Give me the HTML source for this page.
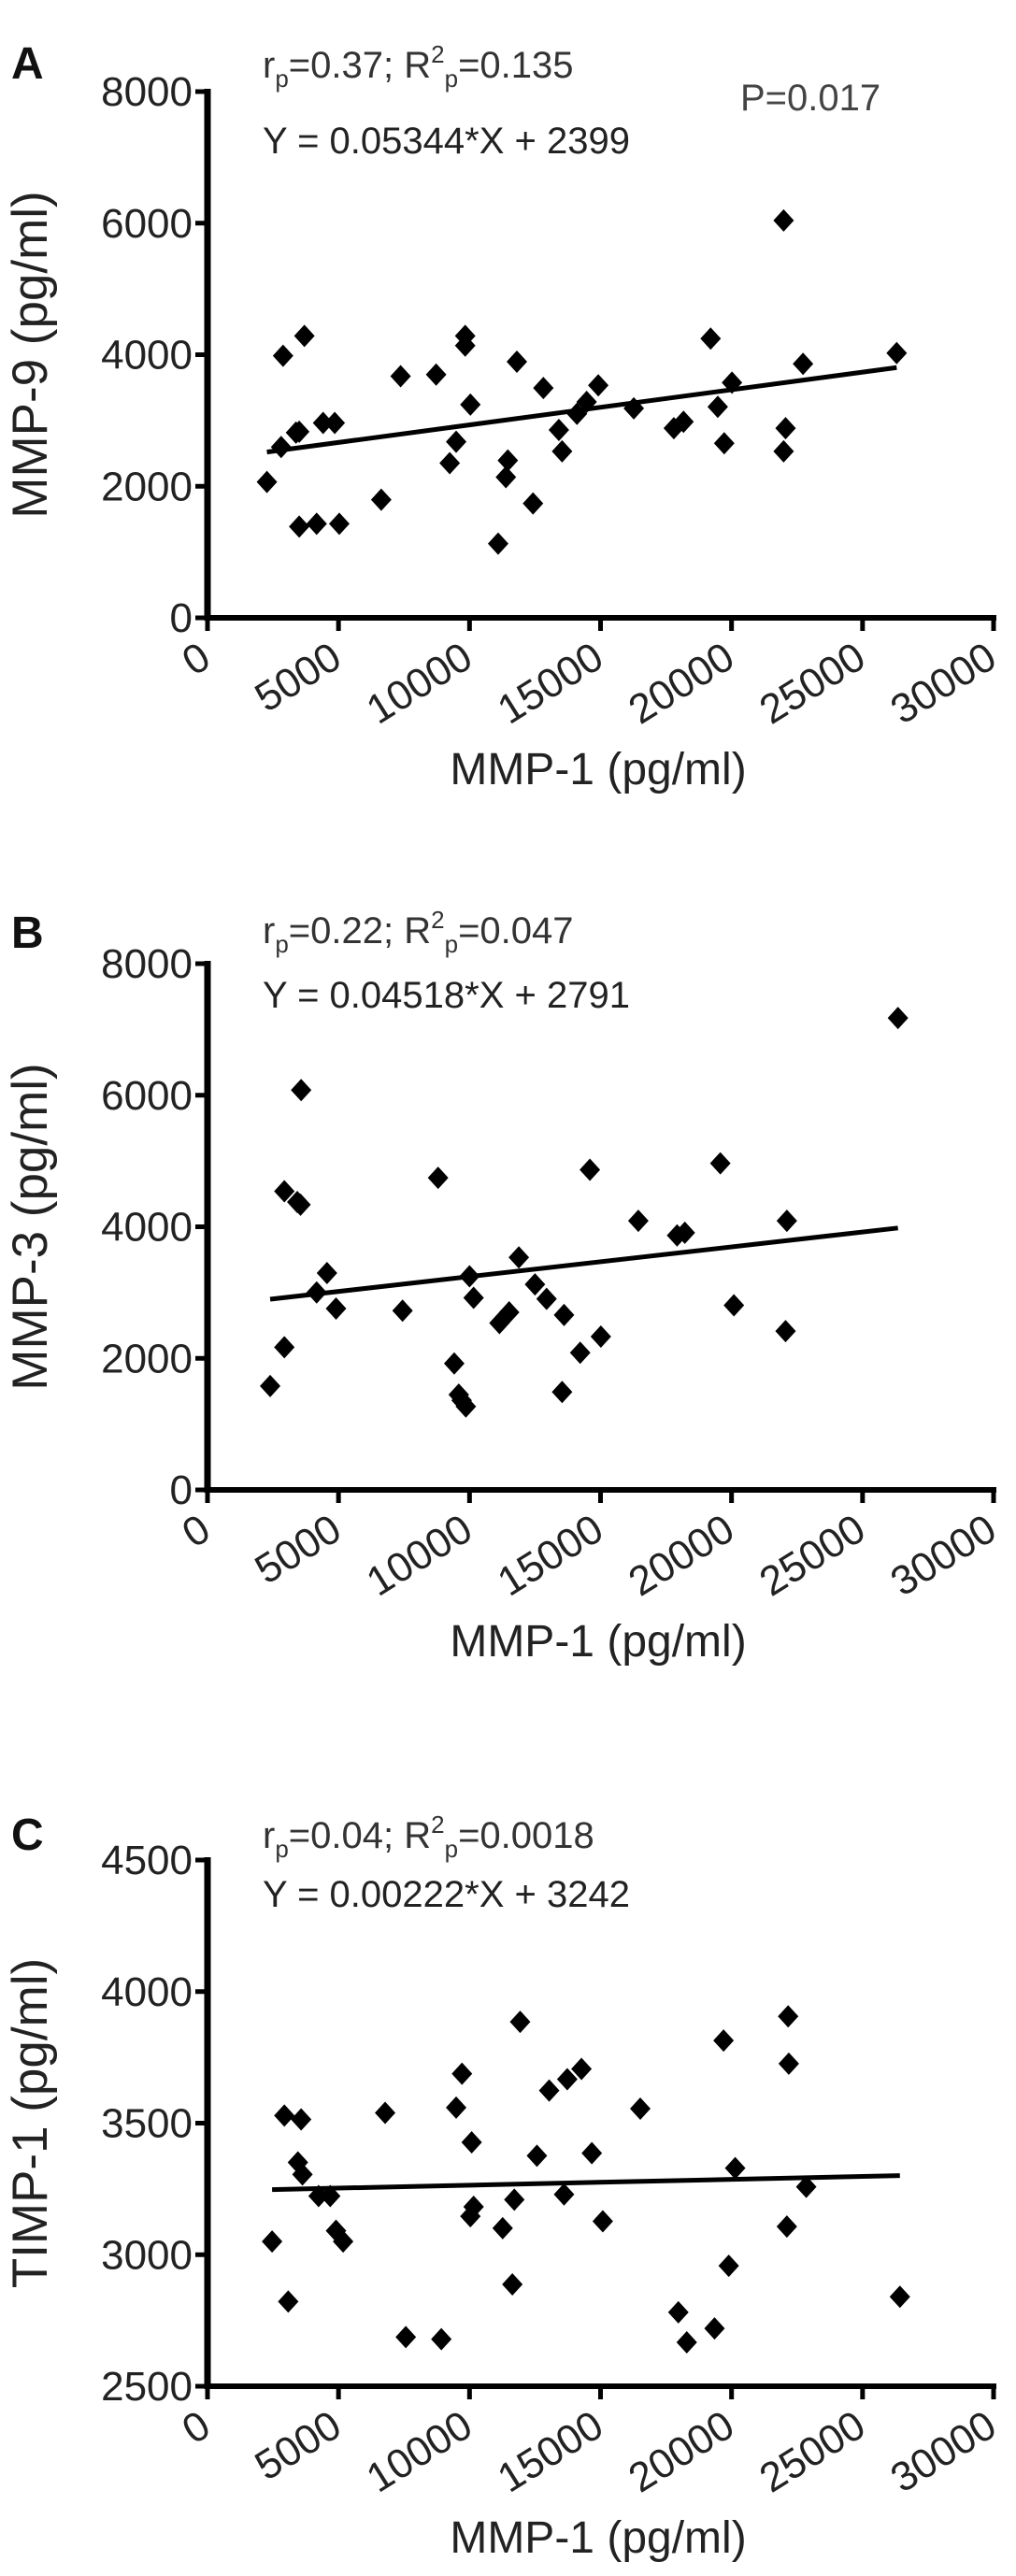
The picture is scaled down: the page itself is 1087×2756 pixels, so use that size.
<!DOCTYPE html>
<html><head><meta charset="utf-8"><style>
html,body{margin:0;padding:0;background:#fff;}
svg{display:block;font-family:"Liberation Sans",Arial,sans-serif;}
</style></head><body>
<svg id="fig" width="1087" height="2756" viewBox="0 0 1087 2756" xmlns="http://www.w3.org/2000/svg"></svg>
<script>
const xTicks=[0,5000,10000,15000,20000,25000,30000];
const yTicksA=[0,2000,4000,6000,8000];
const yTicksB=[0,2000,4000,6000,8000];
const yTicksC=[2500,3000,3500,4000,4500];
const xA=[2268,2884,3377,3500,3698,3500,4166,5029,4412,4856,2810,6631,7370,8726,9490,9244,9835,9835,10033,11093,11462,11388,11807,12423,12818,13410,13533,14100,14470,14914,16269,17797,18167,19202,19474,20016,19720,21988,22062,21988,22728,26302];
const yA=[2065,3984,2816,2830,4286,1388,1429,1429,2963,2963,2596,1796,3673,3698,2677,2351,4286,4139,3241,1127,2392,2139,3894,1739,3494,2857,2531,3102,3282,3535,3184,2882,2980,4245,3208,3575,2653,6041,2882,2531,3861,4024];
const xB=[2391,2933,2933,3426,3550,3574,4166,4560,4905,7444,8800,9416,9589,9860,9700,10000,10156,11142,11512,11882,12498,12941,13607,13533,14223,14593,15012,16442,17921,18217,19572,20090,22111,22062,26351];
const yB=[1579,2168,4540,4376,4335,6078,3002,3297,2757,2724,4744,1922,1448,1268,1360,3247,2920,2536,2699,3534,3125,2904,2659,1489,2086,4867,2331,4090,3869,3910,4965,2806,4090,2413,7174];
const xC=[2465,2933,3081,3574,3451,3624,4240,4683,4905,5176,6779,7568,8924,9490,9712,10082,10156,10033,11265,11635,11709,11931,12572,13040,13607,13730,14272,14667,15086,16516,17970,18291,19351,19695,19893,20139,22160,22185,22111,22851,26425];
const yC=[3050,3529,2822,3514,3351,3305,3223,3223,3091,3050,3539,2687,2679,3559,3688,3427,3182,3146,3101,2887,3209,3885,3376,3624,3229,3667,3706,3386,3127,3555,2781,2667,2720,3814,2958,3329,3906,3726,3107,3258,2840];
const slopes=[0.05344,0.04518,0.00222];
const intercepts=[2399,2791,3242];

const NS="http://www.w3.org/2000/svg";
const svg=document.getElementById('fig');
function mk(tag,attrs,parent,text){const e=document.createElementNS(NS,tag);for(const k in attrs)e.setAttribute(k,attrs[k]);if(text!==undefined)e.textContent=text;(parent||svg).appendChild(e);return e;}

const X0=222,X1=1063,H=563;
const panels=[
 {top:98,letter:'A',xs:xA,ys:yA,yt:yTicksA,ymin:0,ymax:8000,ytitle:'MMP-9 (pg/ml)',ann:['0.37','0.135'],rOff:-15,eOff:66,eq:'Y = 0.05344*X + 2399',p:true,lt:-46},
 {top:1031,letter:'B',xs:xB,ys:yB,yt:yTicksB,ymin:0,ymax:8000,ytitle:'MMP-3 (pg/ml)',ann:['0.22','0.047'],rOff:-22,eOff:47,eq:'Y = 0.04518*X + 2791',p:false,lt:-49},
 {top:1990,letter:'C',xs:xC,ys:yC,yt:yTicksC,ymin:2500,ymax:4500,ytitle:'TIMP-1 (pg/ml)',ann:['0.04','0.0018'],rOff:-13,eOff:50,eq:'Y = 0.00222*X + 3242',p:false,lt:-43}
];
panels.forEach((P,i)=>{
  const g=mk('g',{});
  
  
  const bottom=P.top+H;
  const sx=v=>X0+(v-xTicks[0])/(xTicks[xTicks.length-1]-xTicks[0])*(X1-X0);
  const sy=v=>bottom-(v-P.ymin)/(P.ymax-P.ymin)*H;
  const L=mk('text',{x:12,y:P.top+P.lt+32,'font-size':48,'font-weight':'bold',fill:'#111'},g,P.letter);
  
  
  const ya=mk('line',{x1:X0,y1:P.top-3,x2:X0,y2:bottom+3,stroke:'#000','stroke-width':7},g);
  
  
  const xa=mk('line',{x1:X0-3,y1:bottom,x2:X1+3,y2:bottom,stroke:'#000','stroke-width':6},g);
  
  
  P.yt.forEach(t=>{
    const yy=sy(t);
    const tk=mk('line',{x1:X0-13,y1:yy,x2:X0,y2:yy,stroke:'#000','stroke-width':5},g);
    
    
    const tl=mk('text',{x:X0-16,y:yy+15,'font-size':44,'text-anchor':'end',fill:'#222'},g,String(t));
    
    
  });
  xTicks.forEach(t=>{
    const xx=sx(t);
    const tk=mk('line',{x1:xx,y1:bottom,x2:xx,y2:bottom+14,stroke:'#000','stroke-width':5},g);
    
    
    const tl=mk('text',{x:xx+6,y:bottom+50,'font-size':44,'text-anchor':'end',fill:'#222',transform:`rotate(-32 ${xx+6} ${bottom+50})`},g,String(t));
    
    
  });
  const xt=mk('text',{x:640,y:bottom+178,'font-size':48,'text-anchor':'middle',fill:'#222'},g,'MMP-1 (pg/ml)');
  
  
  const cy=P.top+H/2;
  const yt=mk('text',{x:50,y:cy,'font-size':53,'text-anchor':'middle',fill:'#222',transform:`rotate(-90 50 ${cy})`},g,P.ytitle);
  
  
  const a=mk('text',{x:281,y:P.top+P.rOff,'font-size':40,fill:'#333'},g);
  
  
  a.innerHTML=`r<tspan font-size="26" dy="10">p</tspan><tspan dy="-10">=${P.ann[0]}; R</tspan><tspan font-size="26" dy="-16">2</tspan><tspan font-size="26" dy="26">p</tspan><tspan dy="-10">=${P.ann[1]}</tspan>`;
  const e=mk('text',{x:281,y:P.top+P.eOff,'font-size':40,fill:'#222'},g,P.eq);
  
  
  if(P.p){const pv=mk('text',{x:792,y:P.top+20,'font-size':40,fill:'#444'},g,'P=0.017');
    
    }
  const xmin=Math.min(...P.xs),xmax=Math.max(...P.xs);
  const rl=mk('line',{x1:sx(xmin),y1:sy(intercepts[i]+slopes[i]*xmin),x2:sx(xmax),y2:sy(intercepts[i]+slopes[i]*xmax),stroke:'#000','stroke-width':5},g);
  
  
  P.xs.forEach((xv,j)=>{
    const px=sx(xv),py=sy(P.ys[j]);
    const d=mk('polygon',{points:`${px},${py-12} ${px+11},${py} ${px},${py+12} ${px-11},${py}`,fill:'#000'},g);
    
    
  });
});
</script>
</body></html>
